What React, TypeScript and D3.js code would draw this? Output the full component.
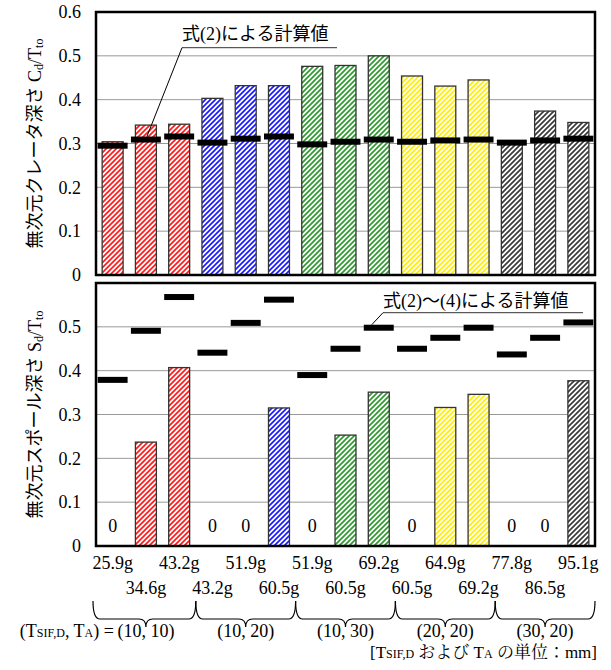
import React from "react";
import * as d3 from "d3";

const categories = ["25.9g","34.6g","43.2g","43.2g","51.9g","60.5g","51.9g","60.5g","69.2g","60.5g","64.9g","69.2g","77.8g","86.5g","95.1g"];
const groups = ["(10, 10)","(10, 20)","(10, 30)","(20, 20)","(30, 20)"];
const groupColors = ["#ff1a1a","#1a1aff","#2e9a2e","#ffee00","#3a3a3a"];
const craterMeasured = [0.304,0.342,0.344,0.403,0.432,0.432,0.476,0.478,0.500,0.454,0.431,0.445,0.298,0.374,0.348];
const craterCalc = [0.295,0.309,0.316,0.302,0.311,0.316,0.298,0.304,0.309,0.304,0.307,0.309,0.302,0.307,0.311];
const spallMeasured = [0,0.237,0.407,0,0,0.315,0,0.253,0.351,0,0.316,0.346,0,0,0.377];
const spallCalc = [0.379,0.491,0.568,0.441,0.509,0.562,0.390,0.450,0.498,0.450,0.475,0.498,0.437,0.475,0.510];
const topTicks = [0,0.1,0.2,0.3,0.4,0.5,0.6];
const bottomTicks = [0,0.1,0.2,0.3,0.4,0.5];
const gridVals = [0.1,0.2,0.3,0.4,0.5];

const SERIF = '"Liberation Serif", "Noto Serif CJK JP"';
const SANS_JP = '"Liberation Serif", "Noto Sans CJK JP"';
const W = 611, H = 670;
const left = 96, right = 595;
const topPanel = { y0: 12, y1: 275 };
const botPanel = { y0: 283, y1: 546 };

const idx = categories.map((_, i) => i);
const x = d3.scaleBand<number>().domain(idx).range([left, right]).padding(0);
const bw = x.bandwidth();
const cx = (i: number) => (x(i) as number) + bw / 2;
const barW = bw * 0.63;
const dashW = bw * 0.9;
const dashH = 6;
const ts = { fontFamily: SERIF };
const tj = { fontFamily: SANS_JP };

function Panel({ y0, y1, measured, calc, ticks, showZero }: any) {
  const y = d3.scaleLinear().domain([0, 0.6]).range([y1, y0]);
  return (
    <g>
      {gridVals.map((v) => (
        <line key={v} x1={left} x2={right} y1={y(v)} y2={y(v)} stroke="#999" strokeWidth={1} />
      ))}
      {measured.map((v: number, i: number) =>
        v > 0 ? (
          <rect key={i} x={cx(i) - barW / 2} y={y(v)} width={barW} height={y(0) - y(v)}
            fill={`url(#hatch${Math.floor(i / 3)})`} stroke="#333" strokeWidth={1.3} />
        ) : showZero ? (
          <text key={i} x={cx(i)} y={y(0) - 14} textAnchor="middle" fontSize={18} style={ts}>0</text>
        ) : null
      )}
      {calc.map((v: number, i: number) => (
        <rect key={"c" + i} x={cx(i) - dashW / 2} y={y(v) - dashH / 2} width={dashW} height={dashH} fill="#000" />
      ))}
      <rect x={left} y={y0} width={right - left} height={y1 - y0} fill="none" stroke="#000" strokeWidth={2.5} />
      {ticks.map((t: number) => (
        <text key={t} x={81} y={y(t)} dy="0.35em" textAnchor="end" fontSize={18} style={ts}>{t === 0 ? "0" : t.toFixed(1)}</text>
      ))}
    </g>
  );
}

function Sub({ children }: any) {
  return <tspan fontSize={12}>{children}</tspan>;
}

export default function App() {
  const yTop = d3.scaleLinear().domain([0, 0.6]).range([topPanel.y1, topPanel.y0]);
  const yBot = d3.scaleLinear().domain([0, 0.6]).range([botPanel.y1, botPanel.y0]);
  const t1x = cx(1) + 1, t1y = yTop(craterCalc[1]) - dashH / 2;
  const t2x = cx(8) - 7, t2y = yBot(spallCalc[8]) - dashH / 2;
  const braceTop = 601, braceMid = 619, braceTip = 627;
  return (
    <svg width={W} height={H} style={{ position: "absolute", left: 0, top: 0, background: "#fff" }}>
      <defs>
        {groupColors.map((c, g) => (
          <pattern key={g} id={`hatch${g}`} patternUnits="userSpaceOnUse" width={5} height={5}>
            <rect width={5} height={5} fill="#fff" />
            <path d="M-1,1 L1,-1 M0,5 L5,0 M4,6 L6,4" stroke={c} strokeWidth={1.7} />
          </pattern>
        ))}
      </defs>
      <rect width={W} height={H} fill="#fff" />
      <Panel y0={topPanel.y0} y1={topPanel.y1} measured={craterMeasured} calc={craterCalc} ticks={topTicks} showZero={false} />
      <Panel y0={botPanel.y0} y1={botPanel.y1} measured={spallMeasured} calc={spallCalc} ticks={bottomTicks} showZero={true} />

      <text x={182} y={40} fontSize={18} style={tj}>式(2)による計算値</text>
      <line x1={182} x2={337} y1={47.7} y2={47.7} stroke="#333" strokeWidth={1} />
      <line x1={182} y1={47.7} x2={t1x} y2={t1y} stroke="#000" strokeWidth={1} />
      <text x={383} y={307} fontSize={18} style={tj}>式(2)〜(4)による計算値</text>
      <line x1={383} x2={583} y1={312.7} y2={312.7} stroke="#333" strokeWidth={1} />
      <line x1={383} y1={312.7} x2={t2x} y2={t2y} stroke="#000" strokeWidth={1} />

      <text transform={`translate(35,${(topPanel.y0 + topPanel.y1) / 2}) rotate(-90)`} textAnchor="middle" dominantBaseline="central" fontSize={18} style={tj}>
        無次元クレータ深さ C<tspan fontSize={12} dy={4}>d</tspan><tspan dy={-4}>/T</tspan><tspan fontSize={12} dy={4}>to</tspan>
      </text>
      <text transform={`translate(35,${(botPanel.y0 + botPanel.y1) / 2}) rotate(-90)`} textAnchor="middle" dominantBaseline="central" fontSize={18} style={tj}>
        無次元スポール深さ S<tspan fontSize={12} dy={4}>d</tspan><tspan dy={-4}>/T</tspan><tspan fontSize={12} dy={4}>to</tspan>
      </text>

      {categories.map((c, i) => (
        <text key={i} x={cx(i)} y={i % 2 === 0 ? 569 : 594} textAnchor="middle" fontSize={18} style={ts}>{c}</text>
      ))}

      {groups.map((gname, g) => {
        const x0 = (x(g * 3) as number) - (g === 0 ? 3 : 0);
        const x1 = (x(g * 3 + 2) as number) + bw;
        const xm = (x0 + x1) / 2 + (g === 0 ? 1.5 : 0);
        const r = 7;
        const d = `M${x0},${braceTop} Q${x0},${braceMid} ${x0 + r},${braceMid} L${xm - r},${braceMid} Q${xm},${braceMid} ${xm},${braceTip} Q${xm},${braceMid} ${xm + r},${braceMid} L${x1 - r},${braceMid} Q${x1},${braceMid} ${x1},${braceTop}`;
        return (
          <g key={g}>
            <path d={d} fill="none" stroke="#000" strokeWidth={1.2} />
            <text x={xm} y={637} textAnchor="middle" fontSize={18} style={ts}>{gname}</text>
          </g>
        );
      })}
      <text x={cx(1) - 32} y={637} textAnchor="end" fontSize={18} style={ts}>
        (T<Sub>SIF,D</Sub>, T<Sub>A</Sub>) =
      </text>
      <text x={597} y={658} textAnchor="end" fontSize={17} style={ts}>
        [T<Sub>SIF,D</Sub> および T<Sub>A</Sub> の単位：mm]
      </text>
    </svg>
  );
}
